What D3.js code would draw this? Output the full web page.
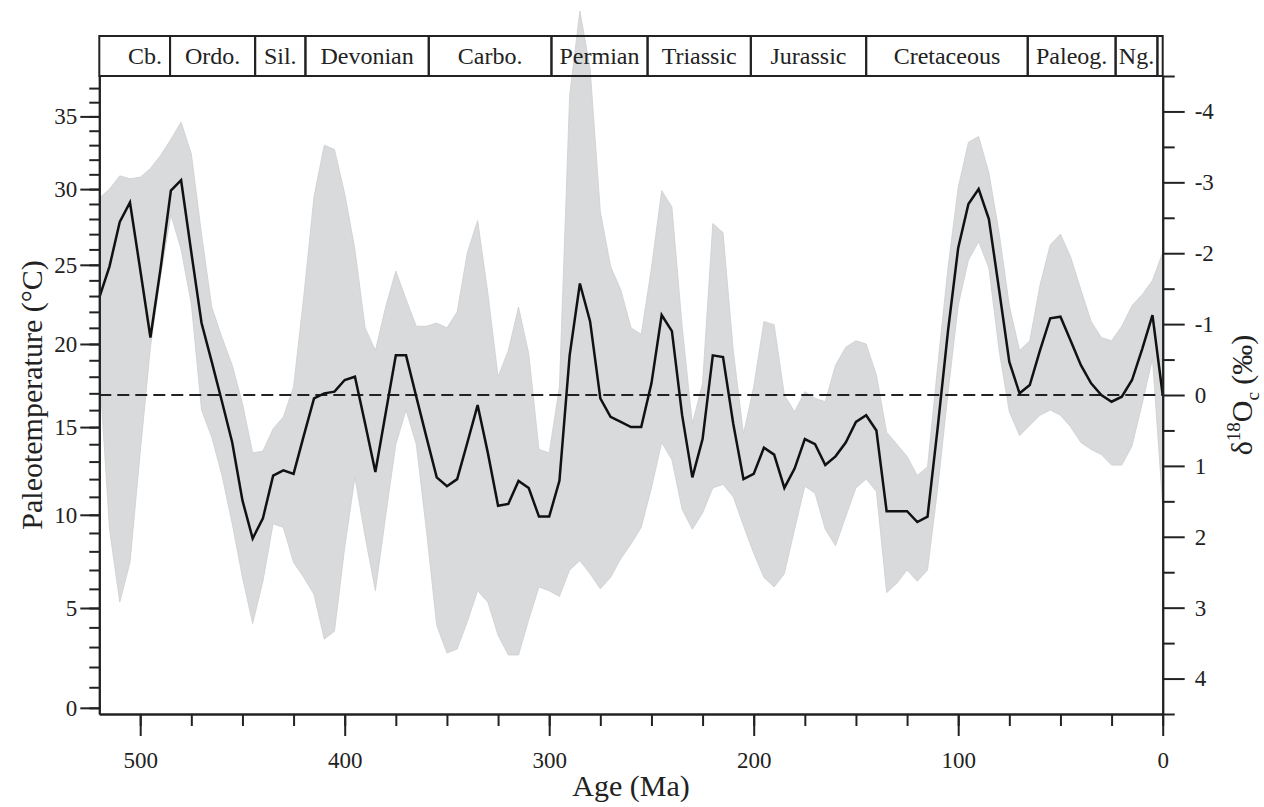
<!DOCTYPE html>
<meta charset="utf-8">
<style>
body { margin: 0; background: #fff; }
text {
  font-family: "Liberation Serif", "Times New Roman", serif;
  fill: #222;
}
g.axis text { font-size: 23px; font-family: "Liberation Serif", "Times New Roman", serif; }
g.axis path.domain, g.axis line {
  stroke: #222;
  stroke-width: 2px;
}
g.header rect { fill: none; stroke: #222; stroke-width: 2px; }
g.header text { font-size: 24px; }
text.title { font-size: 30px; }
</style>
<body>
<div id="chart"></div>
<script src="https://cdn.jsdelivr.net/npm/d3@7"></script>
<script>
// Phanerozoic paleotemperature curve with its uncertainty band

// Age of each sample (Ma)
var ages = [520, 515, 510, 505, 500, 495, 490, 485, 480, 475,
            470, 465, 460, 455, 450, 445, 440, 435, 430, 425,
            420, 415, 410, 405, 400, 395, 390, 385, 380, 375,
            370, 365, 360, 355, 350, 345, 340, 335, 330, 325,
            320, 315, 310, 305, 300, 295, 290, 285, 280, 275,
            270, 265, 260, 255, 250, 245, 240, 235, 230, 225,
            220, 215, 210, 205, 200, 195, 190, 185, 180, 175,
            170, 165, 160, 155, 150, 145, 140, 135, 130, 125,
            120, 115, 110, 105, 100, 95, 90, 85, 80, 75,
            70, 65, 60, 55, 50, 45, 40, 35, 30, 25,
            20, 15, 10, 5, 0];

// Mean paleotemperature (deg C)
var tempMean = [22.9, 24.9, 27.8, 29.1, 24.7, 20.4, 24.8, 29.9, 30.6, 25.8,
                21.3, 18.9, 16.5, 14.1, 10.8, 8.7, 9.8, 12.2, 12.5, 12.3,
                14.5, 16.7, 17.0, 17.1, 17.8, 18.0, 15.2, 12.4, 15.8, 19.3,
                19.3, 16.8, 14.4, 12.1, 11.6, 12.0, 14.1, 16.3, 13.5, 10.5,
                10.6, 11.9, 11.5, 9.9, 9.9, 11.9, 19.3, 23.8, 21.4, 16.7,
                15.6, 15.3, 15.0, 15.0, 17.6, 21.8, 20.8, 15.7, 12.1, 14.3,
                19.3, 19.2, 15.2, 12.0, 12.3, 13.8, 13.4, 11.5, 12.6, 14.3,
                14.0, 12.8, 13.3, 14.1, 15.3, 15.7, 14.8, 10.2, 10.2, 10.2,
                9.6, 9.9, 15.0, 20.8, 26.1, 29.0, 30.0, 28.0, 23.4, 18.9,
                17.0, 17.5, 19.6, 21.6, 21.7, 20.2, 18.7, 17.6, 16.9, 16.5,
                16.8, 17.8, 19.7, 21.8, 16.9];

// Upper edge of the grey band (deg C)
var tempUpper = [29.4, 30.0, 30.9, 30.7, 30.8, 31.4, 32.3, 33.4, 34.6, 32.4,
                 27.0, 22.3, 20.4, 18.7, 16.4, 13.5, 13.6, 14.9, 15.6, 17.4,
                 23.0, 29.5, 33.0, 32.7, 29.7, 26.0, 21.0, 19.6, 22.3, 24.6,
                 22.8, 21.1, 21.1, 21.3, 21.0, 22.0, 25.8, 27.9, 23.2, 18.0,
                 19.6, 22.3, 19.4, 13.7, 13.5, 17.4, 36.5, 42.6, 38.4, 28.5,
                 24.9, 23.4, 21.0, 20.6, 24.8, 29.9, 28.8, 21.1, 15.2, 17.6,
                 27.7, 27.1, 19.6, 14.6, 17.4, 21.4, 21.2, 16.9, 15.9, 17.1,
                 16.7, 16.5, 18.7, 19.8, 20.2, 20.0, 18.1, 14.7, 14.0, 13.3,
                 12.2, 12.7, 18.7, 24.8, 30.1, 33.2, 33.6, 31.1, 27.1, 22.4,
                 19.6, 20.2, 23.7, 26.3, 27.0, 25.5, 23.4, 21.4, 20.4, 20.2,
                 21.1, 22.4, 23.1, 24.0, 25.8];

// Lower edge of the grey band (deg C)
var tempLower = [18.5, 9.2, 5.3, 7.4, 13.5, 19.8, 24.3, 28.3, 26.0, 22.5,
                 16.0, 14.4, 12.2, 9.5, 6.6, 4.2, 6.4, 9.5, 9.3, 7.4,
                 6.6, 5.7, 3.4, 3.8, 8.2, 12.1, 8.8, 5.9, 9.9, 14.0,
                 16.0, 14.0, 9.1, 4.1, 2.7, 2.9, 4.3, 5.9, 5.3, 3.6,
                 2.6, 2.6, 4.4, 6.1, 5.9, 5.6, 7.0, 7.5, 6.8, 6.0,
                 6.6, 7.6, 8.4, 9.3, 11.5, 14.1, 13.1, 10.3, 9.2, 10.1,
                 11.5, 11.7, 11.0, 9.4, 7.9, 6.6, 6.1, 6.8, 9.2, 11.6,
                 11.2, 9.2, 8.3, 9.9, 11.5, 12.0, 11.3, 5.8, 6.3, 7.0,
                 6.4, 7.0, 11.5, 17.0, 22.4, 25.3, 26.5, 24.8, 19.6, 15.9,
                 14.5, 15.1, 15.7, 16.0, 15.7, 15.0, 14.1, 13.7, 13.4, 12.8,
                 12.8, 13.9, 16.4, 19.1, 10.5];

// Geological periods shown in the header (start age, Ma)
var periodNames = ["Cb.", "Ordo.", "Sil.", "Devonian", "Carbo.", "Permian",
                   "Triassic", "Jurassic", "Cretaceous", "Paleog.", "Ng.", ""];
var periodStarts = [538.8, 485.4, 443.8, 419.2, 358.9, 298.9,
                    251.9, 201.4, 145.0, 66.0, 23.03, 2.58];

// Tick values
var ageMajorTicks = [500, 400, 300, 200, 100, 0];
var ageMinorTicks = [500, 475, 450, 425, 400, 375, 350, 325, 300, 275, 250, 225,
                     200, 175, 150, 125, 100, 75, 50, 25, 0];
var tempMajorTicks = [0, 5, 10, 15, 20, 25, 30, 35];
var tempMinorTicks = [0, 1, 2, 3, 4, 5, 6, 7, 8, 9, 10, 11, 12, 13, 14, 15, 16, 17, 18,
                      19, 20, 21, 22, 23, 24, 25, 26, 27, 28, 29, 30, 31, 32, 33, 34, 35, 36, 37];
var d18OMajorTicks = [-4, -3, -2, -1, 0, 1, 2, 3, 4];
var d18OMinorTicks = [-4.5, -3.5, -2.5, -1.5, -0.5, 0.5, 1.5, 2.5, 3.5, 4.5];

var outerWidth = 1264;
var outerHeight = 807;
var plot = {left: 99.3, right: 1162.7, top: 76, bottom: 714};
var headerTop = 36;

var svg = d3.select("#chart")
      .append("svg")
      .attr("width", outerWidth)
      .attr("height", outerHeight);

// Scales: the plot is linear in d18O, temperature follows the paleotemperature equation
var x = d3.scaleLinear().domain([520, 0]).range([plot.left, plot.right]);
var yD = d3.scaleLinear().domain([-4.5, 4.5]).range([plot.top, plot.bottom]);

// T = a - b*d + c*d^2
var pt = {a: 16.9, b: 4.24, c: 0.093};
function tempFromD18O(d) {
    return pt.a - pt.b * d + pt.c * d * d;
}
function d18OFromTemp(t) {
    var disc = pt.b * pt.b - 4 * pt.c * (pt.a - t);
    return (pt.b - Math.sqrt(disc)) / (2 * pt.c);
}
function yT(t) {
    return yD(d18OFromTemp(t));
}

// Grey uncertainty band
var band = d3.area()
      .x(function (d, i) { return x(ages[i]); })
      .y0(function (d, i) { return yT(tempLower[i]); })
      .y1(function (d, i) { return yT(tempUpper[i]); });

svg.append("path")
      .datum(ages)
      .attr("d", band)
      .attr("fill", "#d9dadc")
      .attr("stroke", "#cdced1")
      .attr("stroke-width", 0.8);

// Dashed reference at d18O = 0
svg.append("line")
      .attr("x1", x(520))
      .attr("x2", x(0))
      .attr("y1", yD(0))
      .attr("y2", yD(0))
      .attr("stroke", "#222")
      .attr("stroke-width", 2)
      .attr("stroke-dasharray", "12,6");

// Mean curve
var meanLine = d3.line()
      .x(function (d, i) { return x(ages[i]); })
      .y(function (d, i) { return yT(tempMean[i]); });

svg.append("path")
      .datum(tempMean)
      .attr("d", meanLine)
      .attr("fill", "none")
      .attr("stroke", "#111")
      .attr("stroke-width", 2.5)
      .attr("stroke-linejoin", "miter");

// Bottom axis
svg.append("g").attr("class", "axis")
      .attr("transform", "translate(0," + plot.bottom + ")")
      .call(d3.axisBottom(x).tickValues(ageMinorTicks).tickSize(12).tickSizeOuter(0).tickFormat(""));
svg.append("g").attr("class", "axis")
      .attr("transform", "translate(0," + plot.bottom + ")")
      .call(d3.axisBottom(x).tickValues(ageMajorTicks).tickSize(22).tickSizeOuter(0).tickPadding(16));

// Left axis (temperature)
svg.append("g").attr("class", "axis")
      .attr("transform", "translate(" + plot.left + ",0)")
      .call(d3.axisLeft(yD).tickValues(tempMinorTicks.map(d18OFromTemp))
            .tickSize(10).tickSizeOuter(0).tickFormat(""));
svg.append("g").attr("class", "axis")
      .attr("transform", "translate(" + plot.left + ",0)")
      .call(d3.axisLeft(yD).tickValues(tempMajorTicks.map(d18OFromTemp))
            .tickSize(19).tickSizeOuter(0).tickPadding(3)
            .tickFormat(function (d) { return Math.round(tempFromD18O(d)); }));

// Right axis (d18O)
svg.append("g").attr("class", "axis")
      .attr("transform", "translate(" + plot.right + ",0)")
      .call(d3.axisRight(yD).tickValues(d18OMinorTicks).tickSize(12).tickSizeOuter(0).tickFormat(""));
svg.append("g").attr("class", "axis")
      .attr("transform", "translate(" + plot.right + ",0)")
      .call(d3.axisRight(yD).tickValues(d18OMajorTicks).tickSize(22).tickSizeOuter(0).tickPadding(10)
            .tickFormat(function (d) { return d; }));

// Period header
var header = svg.append("g").attr("class", "header");
periodNames.forEach(function (name, i) {
    var start = Math.min(periodStarts[i], x.domain()[0]);
    var end = i + 1 < periodStarts.length ? periodStarts[i + 1] : 0;
    header.append("rect")
          .attr("x", x(start))
          .attr("y", headerTop)
          .attr("width", x(end) - x(start))
          .attr("height", plot.top - headerTop);
    var clipped = periodStarts[i] > x.domain()[0];
    header.append("text")
          .attr("x", clipped ? x(end) - 8 : (x(start) + x(end)) / 2)
          .attr("y", 64)
          .attr("text-anchor", clipped ? "end" : "middle")
          .text(name);
});

// Axis titles
svg.append("text")
      .attr("class", "title")
      .attr("text-anchor", "middle")
      .attr("x", (plot.left + plot.right) / 2)
      .attr("y", 796)
      .text("Age (Ma)");

svg.append("text")
      .attr("class", "title")
      .attr("text-anchor", "middle")
      .attr("transform", "translate(42," + yD(0) + ") rotate(-90)")
      .text("Paleotemperature (°C)");

var rTitle = svg.append("text")
      .attr("class", "title")
      .attr("text-anchor", "middle")
      .attr("transform", "translate(1252," + yD(0) + ") rotate(-90)");
rTitle.append("tspan").text("δ");
rTitle.append("tspan").attr("font-size", "19px").attr("dy", -12).text("18");
rTitle.append("tspan").attr("dy", 12).text("O");
rTitle.append("tspan").attr("font-size", "19px").attr("dy", 7).text("c");
rTitle.append("tspan").attr("dy", -7).text(" (‰)");
</script>
